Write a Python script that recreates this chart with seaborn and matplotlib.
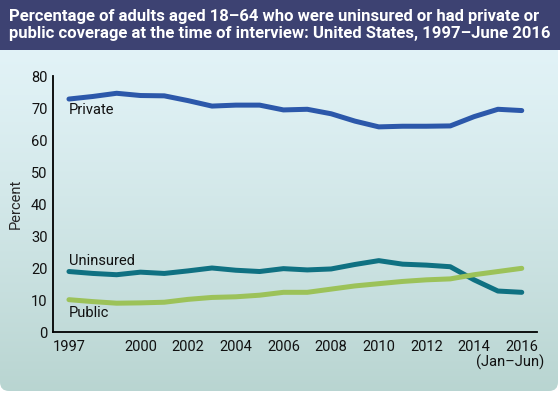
import numpy as np
import pandas as pd
import matplotlib
matplotlib.use("Agg")
from matplotlib import pyplot as plt
from matplotlib.patches import FancyBboxPatch, Rectangle
import seaborn as sns

# data
years = list(range(1997, 2017))
private = [72.8, 73.6, 74.6, 73.9, 73.8, 72.3, 70.6, 70.9, 70.9, 69.4, 69.6, 68.2, 65.9,
           64.1, 64.3, 64.3, 64.4, 67.3, 69.6, 69.2]
uninsured = [18.9, 18.3, 17.9, 18.7, 18.3, 19.1, 20.0, 19.3, 18.9, 19.8, 19.4, 19.7, 21.1,
             22.3, 21.2, 20.9, 20.4, 16.3, 12.8, 12.4]
public = [10.1, 9.5, 9.0, 9.1, 9.3, 10.2, 10.8, 11.0, 11.5, 12.4, 12.4, 13.4, 14.4,
          15.1, 15.8, 16.3, 16.6, 17.9, 18.9, 19.9]
series_names = ["Private", "Uninsured", "Public"]
xtick_years = [1997, 2000, 2002, 2004, 2006, 2008, 2010, 2012, 2014, 2016]

colors = {"Private": "#2c58aa", "Uninsured": "#0f7182", "Public": "#9cc259"}

df = pd.DataFrame({
    "year": years * 3,
    "value": private + uninsured + public,
    "series": sum([[n] * len(years) for n in series_names], []),
})

sns.set_style("white")
plt.rcParams["font.family"] = ["Roboto", "DejaVu Sans"]

W, H = 560, 394
fig = plt.figure(figsize=(W / 100, H / 100), dpi=100)
fig.patch.set_facecolor("white")

# background panel with gradient and rounded bottom corners
bg = fig.add_axes([0, 0, 1, 1])
bg.set_xlim(0, W)
bg.set_ylim(H, 0)
bg.axis("off")
grad = np.linspace(0, 1, 256).reshape(-1, 1)
top_c = np.array([0.898, 0.961, 0.980])
bot_c = np.array([0.725, 0.835, 0.820])
img = top_c + (bot_c - top_c) * grad[:, :, None] ** 1.3
im = bg.imshow(img, extent=[0, W, 391, 0], aspect="auto", zorder=0)
panel = FancyBboxPatch((0, -20), 558, 411, boxstyle="round,pad=0,rounding_size=9",
                       transform=bg.transData, facecolor="none", edgecolor="none")
bg.add_patch(panel)
im.set_clip_path(panel)
bg.add_patch(Rectangle((0, 0), W, 50, facecolor="#3d4272", edgecolor="none", zorder=2))
title = bg.text(9, 25, "Percentage of adults aged 18\u201364 who were uninsured or had private or\n"
                "public coverage at the time of interview: United States, 1997\u2013June 2016",
                color="white", fontsize=12, fontweight="bold", va="center", ha="left",
                linespacing=1.2, zorder=3)
# shrink the title so it fits the band width like the reference
r = fig.canvas.get_renderer()
tw = title.get_window_extent(r).width
title.set_fontsize(12 * 542 / tw)

# main plot
ax = fig.add_axes([53 / W, 1 - 332 / H, (537 - 53) / W, (332 - 76) / H])
ax.patch.set_alpha(0)
sns.lineplot(data=df, x="year", y="value", hue="series", palette=colors,
             linewidth=3.6, legend=False, ax=ax)
ax.set_xlim(1996.33, 2016.64)
ax.set_ylim(0, 80)
ax.set_yticks(range(0, 81, 10))
ax.set_xticks(years)
ax.set_xticklabels([str(y) if y in xtick_years else "" for y in years])
for s in ["top", "right"]:
    ax.spines[s].set_visible(False)
for s in ["left", "bottom"]:
    ax.spines[s].set_color("black")
    ax.spines[s].set_linewidth(1.3)
ax.tick_params(direction="in", length=6, width=1.3, color="black", labelsize=10.5,
               labelcolor="#111111", pad=4)
ax.tick_params(axis="x", pad=6)
ax.set_xlabel("")
ax.set_ylabel("Percent", fontsize=10.5, labelpad=6)
ax.text(2016.95, -9.6, "(Jan\u2013Jun)", ha="right", va="center", fontsize=10.5,
        color="#111111", clip_on=False)

ax.text(1997, 69.4, "Private", fontsize=10.5, va="center", ha="left", color="#111111")
ax.text(1997, 22.2, "Uninsured", fontsize=10.5, va="center", ha="left", color="#111111")
ax.text(1997, 5.9, "Public", fontsize=10.5, va="center", ha="left", color="#111111")

fig.savefig("out.png", dpi=100)
